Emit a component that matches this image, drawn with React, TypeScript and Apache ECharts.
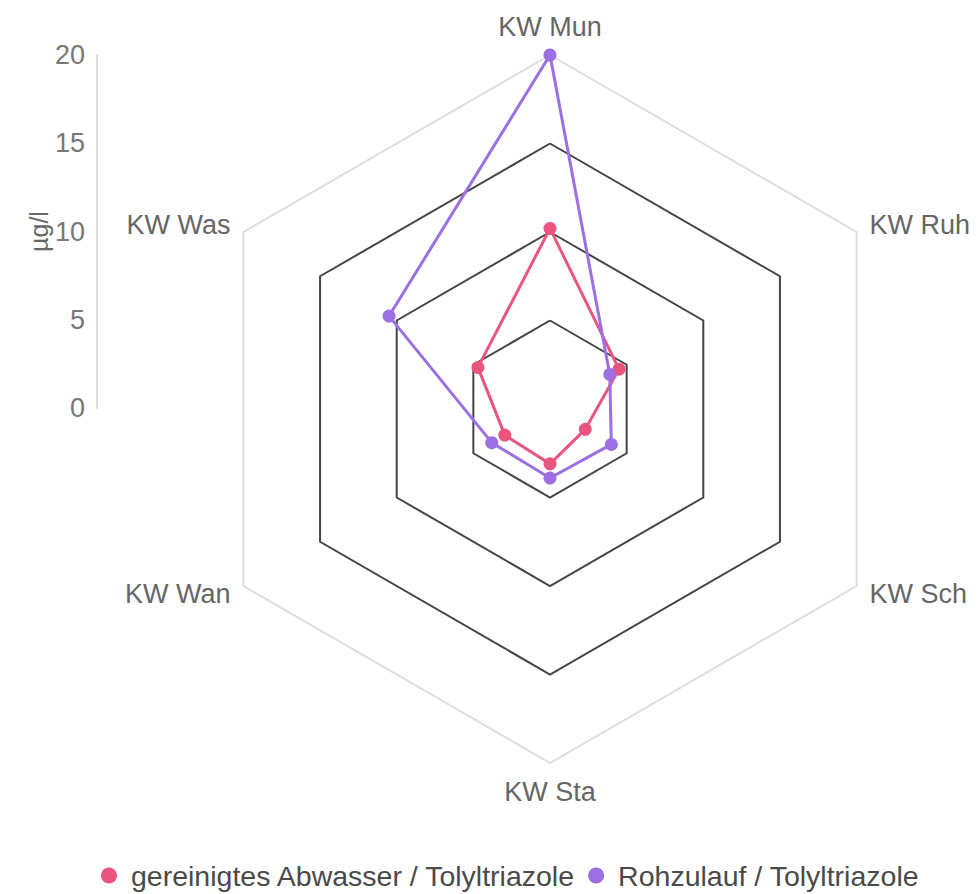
import React, { useEffect, useRef } from "react";
import * as echarts from "echarts";

const indicators = ["KW Mun", "KW Was", "KW Wan", "KW Sta", "KW Sch", "KW Ruh"];
const seriesNames = ["gereinigtes Abwasser / Tolyltriazole", "Rohzulauf / Tolyltriazole"];
// values in indicator order above
const gereinigt = [10.2, 4.7, 2.95, 3.1, 2.3, 4.5];
const rohzulauf = [20, 10.5, 3.8, 3.9, 4.0, 3.9];
const yTicks = [0, 5, 10, 15, 20];
const colors = ["#E9557F", "#9C6FE2"];

export default function App() {
  const ref = useRef<HTMLDivElement>(null);
  useEffect(() => {
    const chart = echarts.init(ref.current!, null, { renderer: "svg" });
    const font = "'Liberation Sans', Arial, sans-serif";
    chart.setOption({
      animation: false,
      textStyle: { fontFamily: font },
      color: colors,
      legend: {
        data: seriesNames,
        left: 96,
        top: 856,
        icon: "circle",
        itemWidth: 16,
        itemHeight: 16,
        itemGap: 12,
        textStyle: { fontSize: 28.5, color: "#4a4a4a", padding: [0, 0, 0, 9], fontFamily: font },
      },
      grid: { left: 97, top: 55, height: 353, width: 1, containLabel: false },
      xAxis: { type: "value", show: false },
      yAxis: {
        type: "value",
        min: yTicks[0],
        max: yTicks[yTicks.length - 1],
        interval: 5,
        name: "µg/l",
        nameLocation: "middle",
        nameGap: 46,
        nameTextStyle: { fontSize: 25, color: "#666" },
        axisLine: { show: true, lineStyle: { color: "#dddddd", width: 2 } },
        axisTick: { show: false },
        splitLine: { show: false },
        axisLabel: { fontSize: 27, color: "#777", margin: 12 },
      },
      radar: {
        center: [550, 409],
        radius: 354,
        startAngle: 90,
        splitNumber: 4,
        shape: "polygon",
        nameGap: 15,
        axisName: { color: "#666", fontSize: 27, fontFamily: font },
        indicator: indicators.map((n) => ({ name: n, min: 0, max: 20 })),
        axisLine: { show: false },
        axisTick: { show: false },
        axisLabel: { show: false },
        splitArea: { show: false },
        splitLine: {
          lineStyle: { color: ["#444444", "#444444", "#444444", "#444444", "#dddddd"], width: 2 },
        },
      },
      series: [
        {
          type: "radar",
          symbol: "circle",
          symbolSize: 13,
          lineStyle: { width: 3 },
          data: [
            { name: seriesNames[0], value: gereinigt, itemStyle: { color: colors[0] }, lineStyle: { color: colors[0], width: 3 } },
            { name: seriesNames[1], value: rohzulauf, itemStyle: { color: colors[1] }, lineStyle: { color: colors[1], width: 3 } },
          ],
        },
      ],
    });
    return () => chart.dispose();
  }, []);
  return (
    <div
      ref={ref}
      style={{ position: "fixed", left: 0, top: 0, width: 979, height: 894, background: "#fff" }}
    />
  );
}
